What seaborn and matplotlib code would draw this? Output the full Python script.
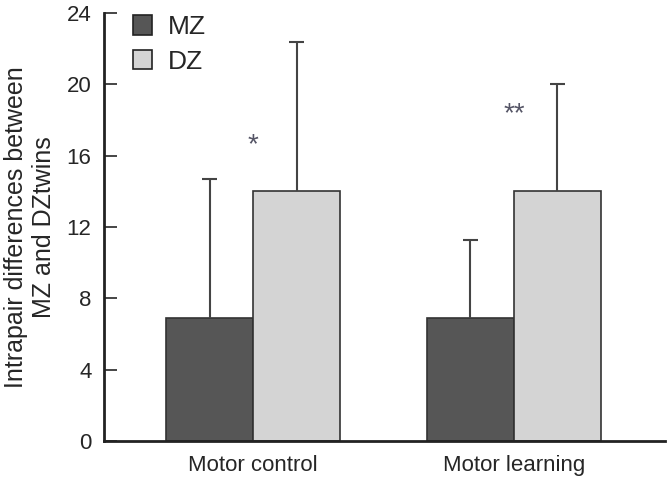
import pandas as pd
from matplotlib import pyplot as plt
from matplotlib.patches import Patch
import seaborn as sns
import numpy as np

tasks = ['Motor control', 'Motor learning']
groups = ['MZ', 'DZ']
mz_mean = [6.9, 6.9]
dz_mean = [14.0, 14.0]
mz_sd = [7.8, 4.4]
dz_sd = [8.4, 6.0]
stars = ['*', '**']
star_y = [16.6, 18.3]

df = pd.DataFrame({
    'task': tasks * 2,
    'group': ['MZ'] * 2 + ['DZ'] * 2,
    'value': mz_mean + dz_mean,
    'sd': mz_sd + dz_sd,
})

sns.set_style('ticks')
plt.rcParams['font.family'] = ['Liberation Sans', 'DejaVu Sans']
colors = {'MZ': '#565656', 'DZ': '#d4d4d4'}

fig = plt.figure(figsize=(6.69, 4.8), dpi=100)
ax = fig.add_axes([0.1555, 0.081, 0.8385, 0.892])

sns.barplot(data=df, x='task', y='value', hue='group', order=tasks,
            hue_order=groups, palette=colors, width=0.667, errorbar=None,
            edgecolor='#333333', linewidth=1.2, legend=False, ax=ax)

# error bars (upper only): stem from bar top plus a cap
cap = 0.029
for bars, g in zip(ax.containers, groups):
    sub = df[df['group'] == g].set_index('task').loc[tasks]
    xs = np.array([b.get_x() + b.get_width() / 2 for b in bars])
    top = sub['value'].values + sub['sd'].values
    ax.vlines(xs, sub['value'].values, top, color='#444444', lw=1.5,
              zorder=1)
    ax.hlines(top, xs - cap, xs + cap, color='#444444', lw=1.5, zorder=1)

for i, s in enumerate(stars):
    ax.text(i, star_y[i], s, ha='center', va='center', fontsize=20,
            color='#555566')

ax.set_ylim(0, 24)
ax.set_xlim(-0.571, 1.579)
ax.set_yticks(range(0, 25, 4))
ax.tick_params(axis='y', direction='in', length=9, width=1.2,
               labelsize=16, pad=9)
ax.tick_params(axis='x', length=0, labelsize=16, pad=10)
ax.set_xlabel('')
ax.set_ylabel('Intrapair differences between\nMZ and DZtwins', fontsize=18,
              labelpad=8, linespacing=1.2)
sns.despine(ax=ax)
for side in ['left', 'bottom']:
    ax.spines[side].set_linewidth(2)
    ax.spines[side].set_color('#222222')

handles = [Patch(facecolor=colors[g], edgecolor='#222222', linewidth=1.2)
           for g in groups]
ax.legend(handles, groups, loc='upper left', bbox_to_anchor=(0.01, 1.05),
          frameon=False, fontsize=19, handlelength=0.7, handleheight=0.75,
          handletextpad=0.6, labelspacing=0.4)

fig.savefig('out.png', dpi=100)
